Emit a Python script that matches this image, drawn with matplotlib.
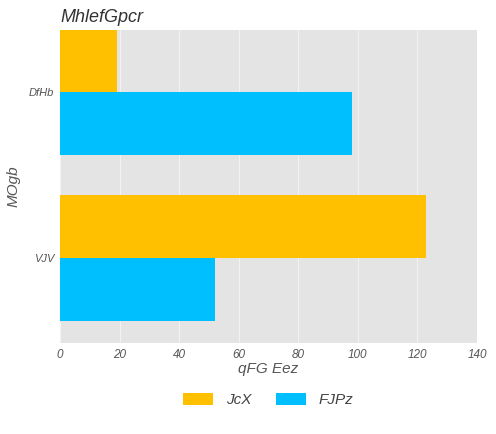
import matplotlib
matplotlib.use("Agg")
import matplotlib.pyplot as plt
import numpy as np

categories = ["VJV", "DfHb"]
series_names = ["JcX", "FJPz"]
jcx_values = [123, 19]
fjpz_values = [52, 98]
colors = ["#FFC000", "#00BFFF"]
xticks = [0, 20, 40, 60, 80, 100, 120, 140]

plt.rcParams['font.family'] = ['Liberation Sans', 'DejaVu Sans']
plt.rcParams['font.style'] = 'italic'

fig = plt.figure(figsize=(4.96, 4.34), dpi=100)
ax = fig.add_axes([60/496, 1-343/434, (477-60)/496, (343-30)/434])
ax.set_facecolor("#E4E4E4")

y = np.arange(len(categories))
h = 0.38
ax.barh(y + h/2, jcx_values, height=h, color=colors[0], label=series_names[0], zorder=2)
ax.barh(y - h/2, fjpz_values, height=h, color=colors[1], label=series_names[1], zorder=2)

ax.set_xlim(0, 140)
ax.set_ylim(-0.51, 1.37)
ax.set_xticks(xticks)
ax.set_xticklabels([str(t) for t in xticks])
ax.set_yticks(y)
ax.set_yticklabels(categories)
ax.grid(True, axis='x', color='#F2F2F2', linewidth=0.8, zorder=1)
ax.grid(False, axis='y')
for s in ax.spines.values():
    s.set_visible(False)
ax.tick_params(length=0, labelsize=8.5, colors='#555555', pad=4)
ax.tick_params(axis='y', labelsize=8)

ax.set_xlabel("qFG Eez", fontsize=11, color='#555555', labelpad=1)
ax.set_ylabel("MOgb", fontsize=11, color='#555555', labelpad=6)
ax.set_title("MhlefGpcr", fontsize=13, color='#333333', loc='left', pad=6)

leg = fig.legend(loc='center', bbox_to_anchor=(268/496, 1-400/434), ncol=2, frameon=False,
                 fontsize=11, handlelength=2.0, handleheight=0.8, columnspacing=1.6,
                 labelcolor='#444444')

fig.savefig("out.png", dpi=100)
